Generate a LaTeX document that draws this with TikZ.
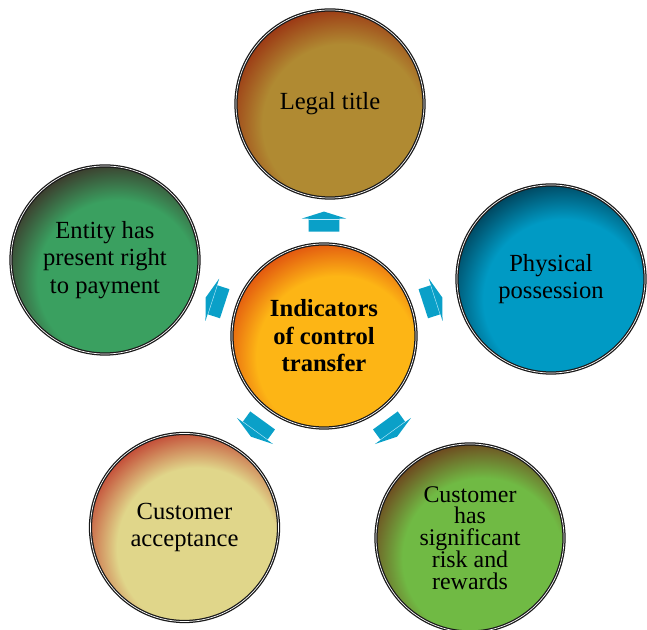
\documentclass[tikz,border=0pt]{standalone}
\usepackage{fontspec}
\setmainfont{Liberation Serif}
\usetikzlibrary{shapes.arrows,calc}
\definecolor{hubMain}{HTML}{FDB515}
\definecolor{hubEdge}{HTML}{E0500F}
\definecolor{legalMain}{HTML}{B08A32}
\definecolor{legalEdge}{HTML}{9B3714}
\definecolor{physMain}{HTML}{009AC4}
\definecolor{physEdge}{HTML}{00465F}
\definecolor{riskMain}{HTML}{70BA44}
\definecolor{riskEdge}{HTML}{6E461E}
\definecolor{acceptMain}{HTML}{E0D68A}
\definecolor{acceptEdge}{HTML}{C34B37}
\definecolor{entityMain}{HTML}{3AA060}
\definecolor{entityEdge}{HTML}{3C3C2D}
\definecolor{arrowBlue}{HTML}{0AA0C8}
\colorlet{glowin}{white}
\colorlet{glowout}{black}
\pgfdeclareradialshading[glowin,glowout]{glow}{\pgfpointorigin}{color(0bp)=(glowin); color(17bp)=(glowin); color(25bp)=(glowout); color(50bp)=(glowout)}
\tikzset{
  disc/.style 2 args={circle, minimum size=4.7cm, inner sep=0pt, align=center,
    draw=black!90, double=white, double distance=0.5pt, line width=0.9pt,
    font=\fontsize{17.5}{19.5}\selectfont,
    path picture={\colorlet{glowin}{#1}\colorlet{glowout}{#2}
      \shade[shading=glow] ($(path picture bounding box.center)+(-58:0.6cm)$) circle (2.95cm);}},
  tipbox/.style={single arrow, fill=arrowBlue, inner xsep=0pt, inner ysep=0.375cm,
    minimum height=0.5cm, single arrow head extend=0.175cm, single arrow tip angle=145},
  foldline/.style={draw=cyan!25!white, line width=0.3pt}
}
\begin{document}
\begin{tikzpicture}[x=0.025cm, y=0.025cm]
    \useasboundingbox (0,0) rectangle (647,630);
    % Circles
    \node [disc={hubMain}{hubEdge}, minimum size=4.6cm, font=\bfseries\fontsize{17.5}{19.5}\selectfont] (hub) at (324,294) {Indicators\\of control\\transfer};
    \node [disc={legalMain}{legalEdge}] (legal) at (330,526) {Legal title};
    \node [disc={physMain}{physEdge}] (physical) at (551,351) {Physical\\possession};
    \node [disc={riskMain}{riskEdge}, font=\fontsize{17}{15.5}\selectfont] (risk) at (470,92) {Customer\\has\\significant\\risk and\\rewards};
    \node [disc={acceptMain}{acceptEdge}] (accept) at (184.5,102.5) {Customer\\acceptance};
    \node [disc={entityMain}{entityEdge}] (entity) at (105,370) {Entity has\\present right\\to payment};

    % Arrows
    \foreach \ang/\nm in {90/toLegal, 18/toPhysical, -54/toRisk, -126/toAccept, 162/toEntity} {
        \node [tipbox, rotate=\ang] (\nm) at ($(hub)+(\ang:112)$) {};
        \draw [foldline] (\nm.before head) -- (\nm.after head);
    }
\end{tikzpicture}
\end{document}
